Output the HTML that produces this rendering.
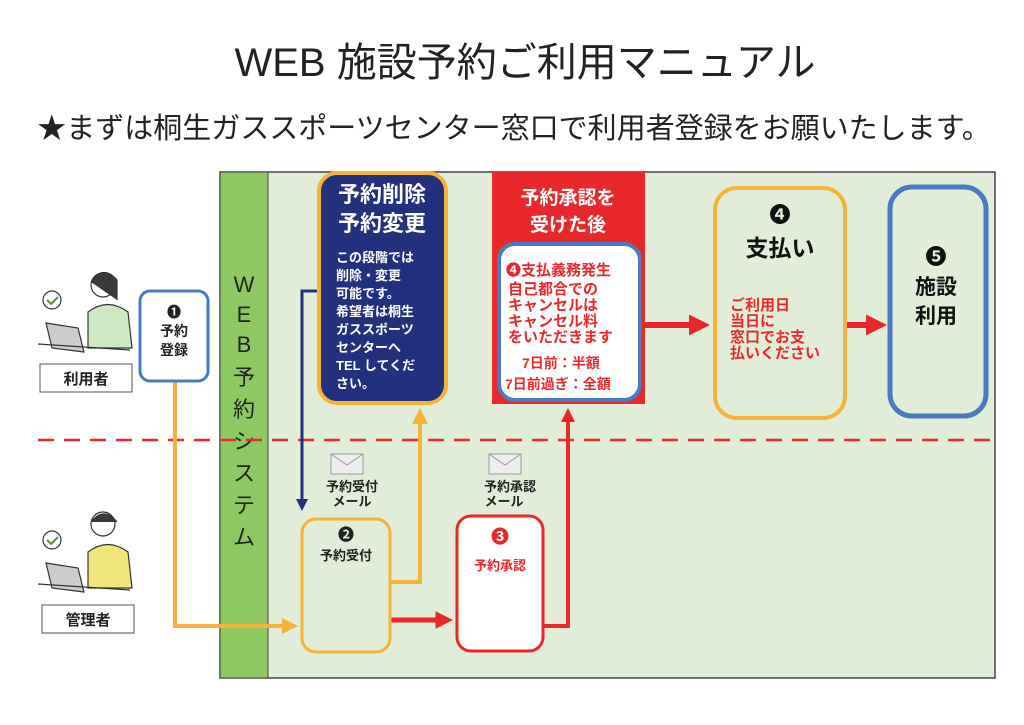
<!DOCTYPE html>
<html><head><meta charset="utf-8"><style>
body{margin:0;background:#fff;}
svg{display:block;font-family:"Liberation Sans","Noto Sans CJK JP",sans-serif;}
.b{font-weight:bold;}
</style></head><body>
<svg width="1024" height="725" viewBox="0 0 1024 725" xmlns="http://www.w3.org/2000/svg">
<defs>
<marker id="ao" markerWidth="4" markerHeight="4" refX="3" refY="2" orient="auto"><path d="M0,0L4,2L0,4z" fill="#f5b33a"/></marker>
<marker id="ar" markerWidth="3.5" markerHeight="3.5" refX="2.5" refY="1.75" orient="auto"><path d="M0,0L3.5,1.75L0,3.5z" fill="#e8282b"/></marker>
<marker id="ab" markerWidth="4" markerHeight="4" refX="3" refY="2" orient="auto"><path d="M0,0L4,2L0,4z" fill="#23307e"/></marker>
</defs>
<text x="525" y="76" font-size="40" text-anchor="middle" fill="#222">WEB 施設予約ご利用マニュアル</text>
<text x="514" y="138" font-size="29" text-anchor="middle" fill="#222">★まずは桐生ガススポーツセンター窓口で利用者登録をお願いたします。</text>

<rect x="220" y="172" width="775" height="506" fill="#e1edd8" stroke="#444" stroke-width="1.5"/>
<rect x="220" y="172" width="48" height="506" fill="#8dc863" stroke="#444" stroke-width="1"/>
<g font-size="22" fill="#222" text-anchor="middle">
<text x="244" y="292">W</text><text x="244" y="322">E</text><text x="244" y="352">B</text>
<text x="244" y="385">予</text><text x="244" y="417">約</text><text x="244" y="449">シ</text>
<text x="244" y="481">ス</text><text x="244" y="513">テ</text><text x="244" y="545">ム</text>
</g>
<line x1="38" y1="440" x2="995" y2="440" stroke="#e8282b" stroke-width="2.5" stroke-dasharray="16,10"/>

<!-- people -->
<g stroke="#333" stroke-width="1.2">
<circle cx="52" cy="300" r="9" fill="#fff"/><path d="M47,300l4,4 7,-7" fill="none" stroke="#5a8a3a" stroke-width="2"/>
<path d="M88,312 q20,-15 40,0 l4,36 h-44z" fill="#cfe8c4"/>
<circle cx="103" cy="285" r="12" fill="#fff"/><path d="M91,282 q12,-18 26,-2 v20" fill="#3a3a3a"/>
<polygon points="46,323 78,328 84,352 52,348" fill="#ccc"/>
<line x1="38" y1="344" x2="130" y2="350"/>
<circle cx="52" cy="540" r="9" fill="#fff"/><path d="M47,540l4,4 7,-7" fill="none" stroke="#5a8a3a" stroke-width="2"/>
<path d="M88,552 q20,-15 40,0 l4,36 h-44z" fill="#f0e67a"/>
<circle cx="103" cy="524" r="12" fill="#fff"/><path d="M91,522 q13,-16 26,0" fill="#3a3a3a"/>
<polygon points="46,563 78,568 84,592 52,588" fill="#ccc"/>
<line x1="38" y1="584" x2="130" y2="590"/>
</g>
<rect x="40" y="364" width="92" height="28" fill="#fff" stroke="#555"/>
<text x="86" y="384" font-size="15" class="b" text-anchor="middle" fill="#222">利用者</text>
<rect x="42" y="605" width="92" height="28" fill="#fff" stroke="#555"/>
<text x="88" y="625" font-size="15" class="b" text-anchor="middle" fill="#222">管理者</text>

<!-- arrows -->
<path d="M175,381 V626 H294" fill="none" stroke="#f5b33a" stroke-width="4" marker-end="url(#ao)"/>
<path d="M318,291 H302 V508" fill="none" stroke="#23307e" stroke-width="3" marker-end="url(#ab)"/>
<path d="M390,582 H420 V412" fill="none" stroke="#f5b33a" stroke-width="4" marker-end="url(#ao)"/>
<path d="M390,620 H448" fill="none" stroke="#e8282b" stroke-width="5" marker-end="url(#ar)"/>
<path d="M543,626 H568 V412" fill="none" stroke="#e8282b" stroke-width="4" marker-end="url(#ar)"/>
<path d="M645,325 H704" fill="none" stroke="#e8282b" stroke-width="6" marker-end="url(#ar)"/>
<path d="M845,325 H881" fill="none" stroke="#e8282b" stroke-width="6" marker-end="url(#ar)"/>

<!-- box 1 -->
<rect x="140" y="291" width="68" height="90" rx="10" fill="#fff" stroke="#4a7bc0" stroke-width="3"/>
<g font-size="14" class="b" text-anchor="middle" fill="#222"><text x="174" y="317">❶</text><text x="174" y="336">予約</text><text x="174" y="355">登録</text></g>

<!-- blue box -->
<rect x="319" y="173" width="127" height="230" rx="18" fill="#23307e" stroke="#f5b33a" stroke-width="4"/>
<g fill="#fff" class="b" text-anchor="middle"><text x="382" y="202" font-size="22">予約削除</text><text x="382" y="231" font-size="22">予約変更</text></g>
<g fill="#fff" class="b" font-size="13"><text x="336" y="262">この段階では</text><text x="336" y="280">削除・変更</text><text x="336" y="298">可能です。</text><text x="336" y="316">希望者は桐生</text><text x="336" y="334">ガススポーツ</text><text x="336" y="352">センターへ</text><text x="336" y="370">TEL してくだ</text><text x="336" y="388">さい。</text></g>

<!-- red box -->
<rect x="492" y="172" width="153" height="232" fill="#e8282b"/>
<g fill="#fff" class="b" text-anchor="middle" font-size="19"><text x="568" y="204">予約承認を</text><text x="568" y="231">受けた後</text></g>
<rect x="499" y="244" width="141" height="156" rx="16" fill="#fff" stroke="#4a7bc0" stroke-width="4"/>
<g fill="#e8282b" class="b" font-size="15"><text x="506" y="275">❹支払義務発生</text><text x="508" y="294">自己都合での</text><text x="508" y="310">キャンセルは</text><text x="508" y="326">キャンセル料</text><text x="508" y="342">をいただきます</text><text x="522" y="368" font-size="14">7日前：半額</text><text x="505" y="389" font-size="14">7日前過ぎ：全額</text></g>

<!-- box 4 -->
<rect x="715" y="188" width="130" height="230" rx="22" fill="#e1edd8" stroke="#f5b33a" stroke-width="4"/>
<g class="b" text-anchor="middle" fill="#111"><text x="780" y="222" font-size="21">❹</text><text x="780" y="256" font-size="23">支払い</text></g>
<g class="b" fill="#e8282b" font-size="15"><text x="730" y="310">ご利用日</text><text x="730" y="326">当日に</text><text x="730" y="342">窓口でお支</text><text x="730" y="358">払いください</text></g>

<!-- box 5 -->
<rect x="890" y="187" width="96" height="229" rx="22" fill="#e1edd8" stroke="#4a7bc0" stroke-width="5"/>
<g class="b" text-anchor="middle" fill="#111" font-size="21"><text x="936" y="264">❺</text><text x="936" y="294">施設</text><text x="936" y="323">利用</text></g>

<!-- mail icons -->
<rect x="331" y="454" width="32" height="20" fill="#eee" stroke="#999"/><path d="M331,454 l16,11 16,-11" fill="none" stroke="#999"/>
<g class="b" font-size="13" fill="#222" text-anchor="middle"><text x="352" y="491">予約受付</text><text x="352" y="506">メール</text></g>
<rect x="489" y="454" width="32" height="20" fill="#eee" stroke="#999"/><path d="M489,454 l16,11 16,-11" fill="none" stroke="#999"/>
<g class="b" font-size="13" fill="#222" text-anchor="middle"><text x="510" y="491">予約承認</text><text x="504" y="506">メール</text></g>

<!-- box 2 -->
<rect x="302" y="519" width="88" height="133" rx="14" fill="#e1edd8" stroke="#f5b33a" stroke-width="3"/>
<g class="b" text-anchor="middle" fill="#222"><text x="346" y="540" font-size="16">❷</text><text x="346" y="560" font-size="13">予約受付</text></g>
<!-- box 3 -->
<rect x="457" y="516" width="86" height="135" rx="14" fill="#fff" stroke="#e8282b" stroke-width="3"/>
<g class="b" text-anchor="middle" fill="#e8282b"><text x="500" y="543" font-size="18">❸</text><text x="500" y="570" font-size="13">予約承認</text></g>
</svg>
</body></html>
